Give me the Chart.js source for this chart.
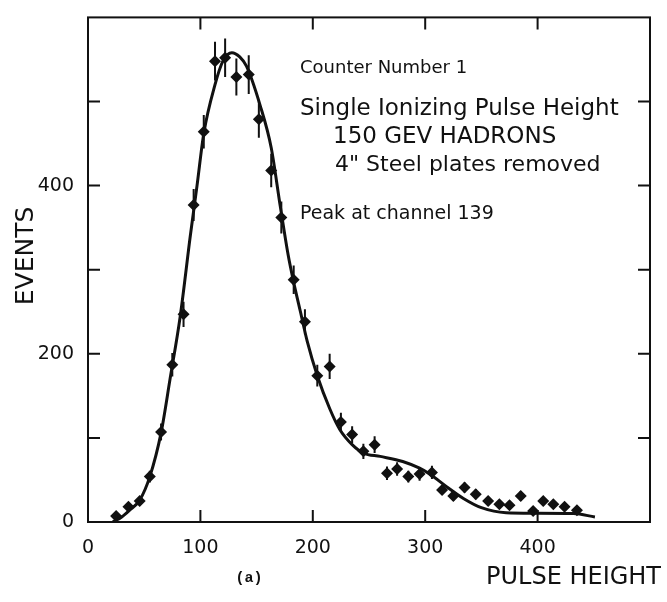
<!DOCTYPE html>
<html>
<head>
<meta charset="utf-8">
<script src="https://cdn.jsdelivr.net/npm/chart.js@4.4.0/dist/chart.umd.min.js"></script>
<style>
  html, body { margin: 0; padding: 0; background: #fff; }
  canvas { display: block; }
</style>
</head>
<body>
<canvas id="pulseCanvas" width="667" height="602"></canvas>
<script>
// measured points (pulse height channel, events, error)
let pulseX = [25, 36, 46, 55, 65, 75, 85, 94, 103, 113, 122, 132, 143, 152, 163, 172, 183, 193, 204, 215,
              225, 235, 245, 255, 266, 275, 285, 295, 306, 315, 325, 335, 345, 356, 366, 375, 385, 396,
              405, 414, 424, 435];
let events = [7, 18, 25, 54, 107, 187, 247, 377, 464, 548, 552, 529, 532, 479, 418, 362, 288, 238, 174, 185,
              119, 104, 84, 92, 58, 63, 54, 57, 59, 38, 31, 41, 33, 25, 21, 20, 31, 13,
              25, 21, 18, 14];
let eventErr = [3, 4, 5, 7, 10, 14, 15, 19, 20, 23, 23, 22, 23, 22, 20, 19, 17, 15, 13, 15,
                11, 10, 9, 10, 8, 8, 7, 8, 8, 6, 6, 6, 6, 5, 5, 4, 6, 4,
                5, 5, 4, 4];

// fitted curve
let fitX = [22, 30, 37, 46, 55, 65, 73, 82, 91, 97, 103, 113, 120, 128, 135, 141, 153, 163, 171, 178,
            183, 189, 195, 204, 215, 224, 235, 245, 260, 280, 295, 304, 319, 334, 350, 372, 396, 432, 451];
let fitY = [0, 6, 14, 26, 54, 106, 170, 244, 340, 400, 462, 520, 548, 558, 553, 542, 496, 445, 376, 318,
            285, 250, 215, 174, 135, 110, 92, 82, 78, 72, 64, 57, 42, 28, 17, 11, 10.5, 10, 6];

let xLabels = [0, 100, 200, 300, 400];
let yLabels = [0, 200, 400];

let ink = '#111111';
let labelFont = '"DejaVu Sans", sans-serif';

let notes = [
    { text: 'Counter Number 1', x: 300, y: 73, size: 18 },
    { text: 'Single Ionizing Pulse Height', x: 300, y: 115, size: 23 },
    { text: '150 GEV HADRONS', x: 333, y: 143, size: 23 },
    { text: '4" Steel plates removed', x: 335, y: 171, size: 22 },
    { text: 'Peak at channel 139', x: 300, y: 219, size: 19 }
];

let toPoints = function (xs, ys) {
    return xs.map(function (x, i) {
        return { x: x, y: ys[i] };
    });
};

let frameTicks = {
    id: 'frameTicks',
    afterDraw: function (chart) {
        let ctx = chart.ctx;
        let a = chart.chartArea;
        let xs = chart.scales.x;
        let ys = chart.scales.y;

        ctx.save();
        ctx.strokeStyle = ink;
        ctx.lineWidth = 2;
        ctx.strokeRect(a.left, a.top, a.right - a.left, a.bottom - a.top);

        ctx.beginPath();
        xs.ticks.forEach(function (t) {
            let px = xs.getPixelForValue(t.value);
            if (px <= a.left + 1 || px >= a.right - 1) return;
            ctx.moveTo(px, a.bottom); ctx.lineTo(px, a.bottom - 12);
            ctx.moveTo(px, a.top); ctx.lineTo(px, a.top + 12);
        });
        ys.ticks.forEach(function (t) {
            let py = ys.getPixelForValue(t.value);
            if (py >= a.bottom - 1 || py <= a.top + 1) return;
            ctx.moveTo(a.left, py); ctx.lineTo(a.left + 12, py);
            ctx.moveTo(a.right, py); ctx.lineTo(a.right - 12, py);
        });
        ctx.stroke();

        // annotations
        ctx.fillStyle = ink;
        ctx.textBaseline = 'alphabetic';
        ctx.textAlign = 'left';
        notes.forEach(function (n) {
            ctx.font = n.size + 'px ' + labelFont;
            ctx.fillText(n.text, n.x, n.y);
        });

        // axis titles
        ctx.font = '24px ' + labelFont;
        ctx.textAlign = 'left';
        ctx.fillText('PULSE HEIGHT', 486, 584);

        ctx.save();
        ctx.translate(33, 256);
        ctx.rotate(-Math.PI / 2);
        ctx.textAlign = 'center';
        ctx.font = '25px ' + labelFont;
        ctx.fillText('EVENTS', 0, 0);
        ctx.restore();

        ctx.font = 'bold 15px "Liberation Mono", monospace';
        ctx.textAlign = 'center';
        ctx.fillText('(a)', 249, 582);
        ctx.restore();
    }
};

let errorBars = {
    id: 'errorBars',
    afterDatasetsDraw: function (chart) {
        let ctx = chart.ctx;
        let ys = chart.scales.y;
        let meta = chart.getDatasetMeta(1);

        ctx.save();
        ctx.strokeStyle = ink;
        ctx.lineWidth = 2;
        ctx.beginPath();
        meta.data.forEach(function (el, i) {
            ctx.moveTo(el.x, ys.getPixelForValue(events[i] + eventErr[i]));
            ctx.lineTo(el.x, ys.getPixelForValue(events[i] - eventErr[i]));
        });
        ctx.stroke();
        ctx.restore();
    }
};

let pulseChartDraw = function () {
    let ctx = document.getElementById('pulseCanvas').getContext('2d');

    window.pulseChart = new Chart(ctx, {
        type: 'scatter',
        data: {
            datasets: [
                {
                    type: 'line',
                    data: toPoints(fitX, fitY),
                    borderColor: ink,
                    borderWidth: 3,
                    pointRadius: 0,
                    cubicInterpolationMode: 'monotone',
                    fill: false
                },
                {
                    data: toPoints(pulseX, events),
                    backgroundColor: ink,
                    borderColor: ink,
                    pointStyle: 'rectRot',
                    pointRadius: 6,
                    borderWidth: 0
                }
            ]
        },
        options: {
            responsive: false,
            animation: false,
            layout: { padding: { top: 8, right: 17, bottom: 0, left: 0 } },
            plugins: {
                legend: { display: false },
                tooltip: { enabled: false }
            },
            scales: {
                x: {
                    type: 'linear',
                    min: 0,
                    max: 500,
                    grid: { display: false },
                    border: { display: false },
                    ticks: {
                        stepSize: 100,
                        padding: 7,
                        color: ink,
                        font: { family: labelFont, size: 19 },
                        maxRotation: 0,
                        callback: function (v) {
                            return xLabels.indexOf(v) >= 0 ? String(v) : '';
                        }
                    },
                    afterFit: function (scale) { scale.height = 80; }
                },
                y: {
                    min: 0,
                    max: 600,
                    grid: { display: false },
                    border: { display: false },
                    ticks: {
                        stepSize: 100,
                        padding: 6,
                        color: ink,
                        font: { family: labelFont, size: 19 },
                        callback: function (v) {
                            return yLabels.indexOf(v) >= 0 ? String(v) : '';
                        }
                    },
                    afterFit: function (scale) { scale.width = 88; }
                }
            }
        },
        plugins: [errorBars, frameTicks]
    });
};

pulseChartDraw();
</script>
</body>
</html>
